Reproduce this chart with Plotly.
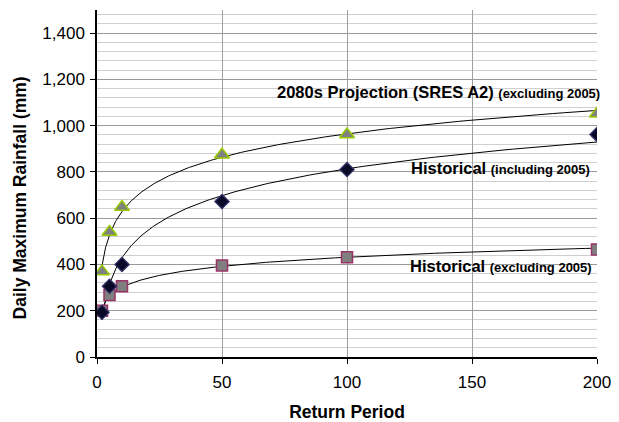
import numpy as np
import plotly.graph_objects as go

return_period = [2, 5, 10, 50, 100, 200]
proj_2080s = [370, 540, 648, 874, 962, 1052]
hist_incl = [193, 306, 400, 672, 810, 962]
hist_excl = [200, 268, 306, 396, 431, 465]

x_ticks = [0, 50, 100, 150, 200]
y_ticks = [0, 200, 400, 600, 800, 1000, 1200, 1400]
y_tick_text = ["0", "200", "400", "600", "800", "1,000", "1,200", "1,400"]

FONT = "Liberation Sans, Arial, Helvetica, sans-serif"

fig = go.Figure()

# logarithmic trendlines (least squares, as a spreadsheet log trendline)
xc = np.geomspace(min(return_period), max(return_period), 200)
for series in (proj_2080s, hist_incl, hist_excl):
    a, b = np.polyfit(np.log(return_period), series, 1)
    fig.add_trace(go.Scatter(x=xc, y=a * np.log(xc) + b, mode="lines",
                             line=dict(color="black", width=1),
                             hoverinfo="skip", showlegend=False))

fig.add_trace(go.Scatter(x=return_period, y=hist_excl, mode="markers",
                         marker=dict(symbol="square", size=11, color="#7f7f7f",
                                     line=dict(color="#993366", width=1.5)),
                         showlegend=False))
fig.add_trace(go.Scatter(x=return_period, y=hist_incl, mode="markers",
                         marker=dict(symbol="diamond", size=11, color="#0a0a28",
                                     line=dict(color="#33336a", width=1.2)),
                         showlegend=False))
fig.add_trace(go.Scatter(x=return_period, y=proj_2080s, mode="markers",
                         marker=dict(symbol="triangle-up", size=13, color="#808080",
                                     line=dict(color="#99cc00", width=1.5)),
                         showlegend=False))

ann_style = dict(showarrow=False, xref="paper", yref="paper", xanchor="right", yanchor="middle",
                 font=dict(family=FONT, size=16.5, color="black"))
fig.add_annotation(x=1.01, y=0.764,
                   text="<b>2080s Projection (SRES A2) <span style='font-size:13px'>(excluding 2005)</span></b>",
                   **ann_style)
fig.add_annotation(x=0.99, y=0.545,
                   text="<b>Historical <span style='font-size:13px'>(including 2005)</span></b>",
                   **ann_style)
fig.add_annotation(x=0.994, y=0.261,
                   text="<b>Historical <span style='font-size:13px'>(excluding 2005)</span></b>",
                   **ann_style)
fig.add_annotation(x=-0.154, y=0.457, xref="paper", yref="paper", showarrow=False,
                   textangle=-90, xanchor="center", yanchor="middle",
                   text="<b>Daily Maximum Rainfall (mm)</b>",
                   font=dict(family=FONT, size=17.5, color="black"))

fig.update_layout(
    width=611, height=414,
    margin=dict(l=89, r=22, t=2, b=60),
    paper_bgcolor="white", plot_bgcolor="white",
    font=dict(family=FONT, size=17, color="black"),
    showlegend=False,
)
fig.update_xaxes(
    range=[0, 200], tickvals=x_ticks, ticks="outside", ticklen=5, tickcolor="black",
    showline=True, linecolor="black", linewidth=1.5,
    showgrid=True, gridcolor="#a0a0a0", gridwidth=1, zeroline=False,
    title=dict(text="<b>Return Period</b>", font=dict(size=17.5), standoff=16),
    tickfont=dict(size=17), ticklabelstandoff=4,
)
fig.update_yaxes(
    range=[0, 1500], tickvals=y_ticks, ticktext=y_tick_text, ticks="outside", ticklen=5,
    tickcolor="black", showline=True, linecolor="black", linewidth=1.5,
    showgrid=True, gridcolor="#9a9a9a", gridwidth=1, zeroline=False,
    minor=dict(dtick=40, tick0=0, showgrid=True, gridcolor="#cfcfcf", gridwidth=1),
    tickfont=dict(size=17), ticklabelstandoff=2,
)

fig.write_html("out.html")
